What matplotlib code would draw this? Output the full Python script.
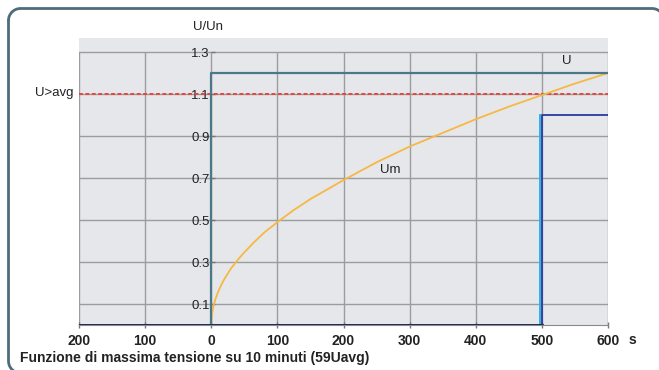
import numpy as np
import matplotlib.pyplot as plt

# data
t_um = [0, 1, 3, 6, 10, 15, 20, 30, 40, 50, 65, 80, 100, 125, 150, 200, 250, 300,
        350, 400, 450, 500, 550, 600]
um = [0, 0.05, 0.085, 0.12, 0.155, 0.19, 0.22, 0.27, 0.31, 0.346, 0.395, 0.44, 0.49,
      0.548, 0.60, 0.69, 0.775, 0.85, 0.915, 0.98, 1.04, 1.095, 1.15, 1.2]
t_u = [0, 0, 600]
u = [0, 1.2, 1.2]
t_trip = [-200, 500, 500, 600]
trip = [0, 0, 1.0, 1.0]
t_start = 497
threshold = 1.1
xticks = [-200, -100, 0, 100, 200, 300, 400, 500, 600]
xlabels = ['200', '100', '0', '100', '200', '300', '400', '500', '600']
yticks = [0.1, 0.3, 0.5, 0.7, 0.9, 1.1, 1.3]

plt.rcParams['font.family'] = ['Liberation Sans', 'DejaVu Sans']

W, H = 659, 370
fig = plt.figure(figsize=(W / 100, H / 100), dpi=100)
fig.patch.set_facecolor('white')

# rounded frame in pixel units; right and bottom edges lie off the canvas
bg = fig.add_axes([0, 0, 1, 1])
bg.set_xlim(0, W)
bg.set_ylim(H, 0)
bg.axis('off')
x0, y0, x1, y1, r = 8.5, 8.5, 664, 373, 12
a = np.linspace(0, np.pi / 2, 20)
top_x = np.concatenate([x0 + r - r * np.cos(a), x1 - r + r * np.sin(a)])
top_y = np.concatenate([y0 + r - r * np.sin(a), y0 + r - r * np.cos(a)])
left_x = np.concatenate([[x0], x0 + r - r * np.cos(a)])
left_y = np.concatenate([[y0 + r], y1 - r + r * np.sin(a)])
bg.plot(top_x, top_y, color='#4e6c7e', lw=2, solid_capstyle='round')
bg.plot(left_x, left_y, color='#4e6c7e', lw=2, solid_capstyle='round')

ax = fig.add_axes([79 / W, 1 - 325 / H, (608 - 79) / W, (325 - 38) / H])
ax.set_facecolor('#e6e7eb')
ax.set_xlim(-200, 600)
ax.set_ylim(0, 1.367)

grid_c = '#9c9c9c'
for y in yticks:
    ax.axhline(y, color=grid_c, lw=1, zorder=1)
ax.vlines(xticks, 0, 1.3, color=grid_c, lw=1, zorder=1)

# series
ax.plot(t_um, um, color='#f6b843', lw=1.3, zorder=3)
ax.axhline(threshold, color='#e8453c', lw=1.4, ls=(0, (2, 1.3)), zorder=2)
ax.plot(t_u, u, color='#4a7888', lw=1.6, zorder=4)
ax.plot([t_start, t_start], [0, 1.0], color='#2fb3e6', lw=1.4, zorder=4)
ax.plot(t_trip, trip, color='#2a3a9c', lw=1.3, zorder=5)
ax.plot(t_trip[:2], trip[:2], color='#1c2a5a', lw=2, zorder=5)

ax.text(538, 1.257, 'U', ha='center', va='center', fontsize=9.5, color='#222222')
ax.text(271, 0.738, 'Um', ha='center', va='center', fontsize=9.5, color='#222222')

# axes
for s in ['top', 'right']:
    ax.spines[s].set_visible(False)
ax.spines['bottom'].set_color('#8a8a8a')
ax.spines['left'].set_position(('data', 0))
ax.spines['left'].set_color('none')

ax.set_yticks(yticks)
ax.set_yticklabels([f'{v:.1f}' for v in yticks])
ax.tick_params(axis='y', direction='in', length=3, width=1, color='#777777',
               labelsize=9.5, labelcolor='#222222', pad=1)
ax.set_xticks(xticks)
ax.set_xticklabels(xlabels, fontweight='bold')
ax.tick_params(axis='x', direction='inout', length=5, width=1, color='#777777',
               labelsize=10, labelcolor='#222222', pad=4)

fig.text(208 / W, 1 - 27 / H, 'U/Un', ha='center', va='center', fontsize=9.5, color='#222222')
fig.text(73 / W, 1 - 93 / H, 'U>avg', ha='right', va='center', fontsize=9.5, color='#222222')
fig.text(632 / W, 1 - 340 / H, 's', ha='center', va='center', fontsize=10,
         fontweight='bold', color='#222222')
fig.text(20 / W, 1 - 358 / H, 'Funzione di massima tensione su 10 minuti (59Uavg)',
         ha='left', va='center', fontsize=10, fontweight='bold', color='#222222')

fig.savefig('out.png', dpi=100)
